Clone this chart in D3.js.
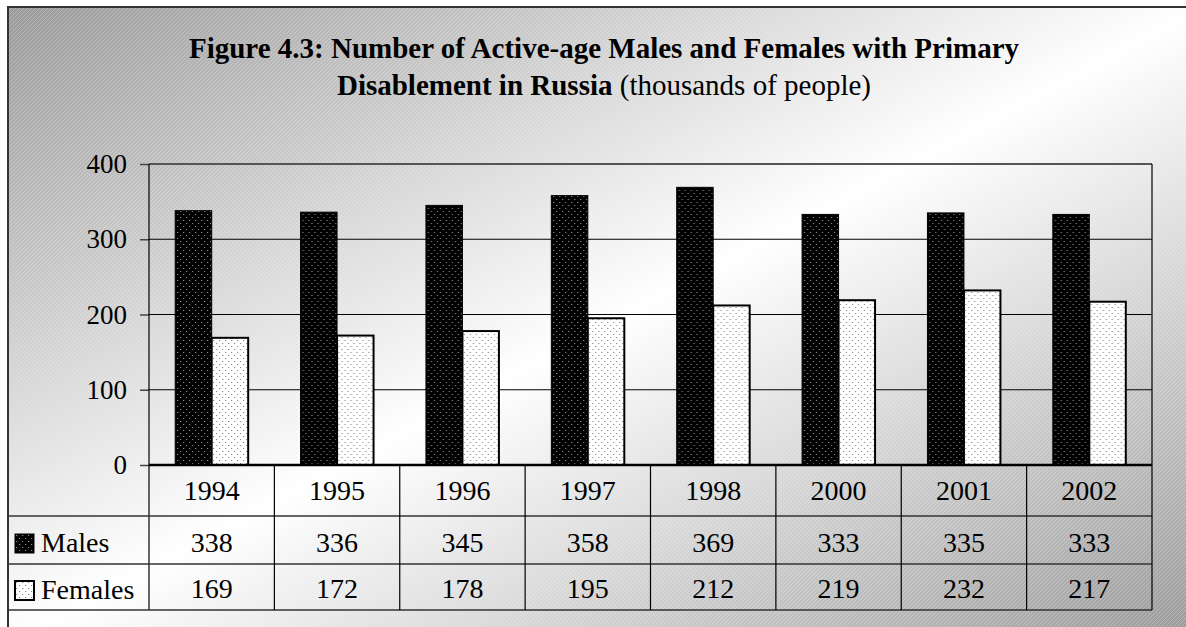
<!DOCTYPE html>
<html lang="en">
<head>
  <meta charset="UTF-8" />
  <title>Figure 4.3</title>
  <style>
    body { margin: 0; background: #fff; }
    svg { display: block; font-family: "Liberation Serif", "Times New Roman", serif; }
  </style>
</head>
<body>
  <svg width="1186" height="627"></svg>

  <script src="https://d3js.org/d3.v7.min.js"></script>
  <script>
    // chart values
    const years = ['1994', '1995', '1996', '1997', '1998', '2000', '2001', '2002'];
    const males = [338, 336, 345, 358, 369, 333, 335, 333];
    const females = [169, 172, 178, 195, 212, 219, 232, 217];
    const seriesNames = ['Males', 'Females'];
    const yTicks = [0, 100, 200, 300, 400];

    const W = 1186, H = 627;
    const plotL = 149, plotR = 1152, plotT = 164, plotB = 465;
    const rowY = [465, 516, 564, 610];

    const svg = d3.select('svg');
    const defs = svg.append('defs');

    // diagonal background gradient
    const grad = defs.append('linearGradient')
      .attr('id', 'bg').attr('x1', 0).attr('y1', 0).attr('x2', 1).attr('y2', 1);
    grad.append('stop').attr('offset', 0).attr('stop-color', '#9a9a9a');
    grad.append('stop').attr('offset', 0.5).attr('stop-color', '#ffffff');
    grad.append('stop').attr('offset', 1).attr('stop-color', '#989898');

    // faint stripes
    const stripes = defs.append('pattern')
      .attr('id', 'stripes').attr('patternUnits', 'userSpaceOnUse')
      .attr('width', 4).attr('height', 4);
    stripes.append('path').attr('d', 'M-1,1 L1,-1 M0,4 L4,0 M3,5 L5,3')
      .attr('stroke', '#fff').attr('stroke-opacity', 0.3).attr('stroke-width', 0.8);

    // dotted fills for bars
    function dots(id, bg, dot) {
      const p = defs.append('pattern')
        .attr('id', id).attr('patternUnits', 'userSpaceOnUse')
        .attr('width', 6).attr('height', 6);
      p.append('rect').attr('width', 6).attr('height', 6).attr('fill', bg);
      p.append('rect').attr('x', 1).attr('y', 1).attr('width', 1.2).attr('height', 1).attr('fill', dot);
      p.append('rect').attr('x', 4).attr('y', 4).attr('width', 1.2).attr('height', 1).attr('fill', dot);
    }
    dots('dotM', '#000', '#8a8a8a');
    dots('dotF', '#fff', '#8a8a8a');
    const fills = { Males: 'url(#dotM)', Females: 'url(#dotF)' };

    svg.append('rect').attr('x', 8).attr('y', 7).attr('width', W + 10).attr('height', H + 10)
      .attr('fill', 'url(#bg)');
    svg.append('rect').attr('x', 8).attr('y', 7).attr('width', W + 10).attr('height', H + 10)
      .attr('fill', 'url(#stripes)');
    svg.append('rect').attr('x', 8).attr('y', 7).attr('width', W + 10).attr('height', H + 10)
      .attr('fill', 'none').attr('stroke', '#333').attr('stroke-width', 2);

    // title
    const title = svg.append('text').attr('text-anchor', 'middle').attr('font-size', 29);
    title.append('tspan').attr('x', 604).attr('y', 58).attr('font-weight', 'bold')
      .text('Figure 4.3: Number of Active-age Males and Females with Primary');
    const t2 = title.append('tspan').attr('x', 604).attr('y', 95);
    t2.append('tspan').attr('font-weight', 'bold').text('Disablement in Russia');
    t2.append('tspan').text(' (thousands of people)');

    const x = d3.scaleBand().domain(years).range([plotL, plotR]).paddingInner(0).paddingOuter(0);
    const x1 = d3.scaleBand().domain(seriesNames).range([0, x.bandwidth()]).paddingInner(0).paddingOuter(0.718);
    const y = d3.scaleLinear().domain([0, 400]).range([plotB, plotT]);

    // gridlines
    svg.append('g').selectAll('line').data(yTicks.filter(d => d > 0)).join('line')
      .attr('x1', plotL).attr('x2', plotR)
      .attr('y1', d => y(d)).attr('y2', d => y(d))
      .attr('stroke', d => d === 400 ? '#555' : '#000')
      .attr('stroke-width', d => d === 400 ? 2 : 1.2);

    // plot frame
    svg.append('line').attr('x1', plotR).attr('x2', plotR).attr('y1', plotT).attr('y2', plotB)
      .attr('stroke', '#000').attr('stroke-width', 1.2);

    // bars
    const data = years.map((yr, i) => ({ year: yr, Males: males[i], Females: females[i] }));
    const groups = svg.append('g').selectAll('g').data(data).join('g')
      .attr('transform', d => `translate(${x(d.year)},0)`);
    groups.selectAll('rect').data(d => seriesNames.map(k => ({ key: k, value: d[k] }))).join('rect')
      .attr('x', d => x1(d.key))
      .attr('width', x1.bandwidth())
      .attr('y', d => y(d.value))
      .attr('height', d => y(0) - y(d.value))
      .attr('fill', d => fills[d.key])
      .attr('stroke', '#000')
      .attr('stroke-width', d => d.key === 'Females' ? 2 : 1);

    // y axis
    const yAxis = svg.append('g').attr('transform', `translate(${plotL},0)`)
      .call(d3.axisLeft(y).tickValues(yTicks).tickSize(9).tickPadding(13));
    yAxis.select('.domain').remove();
    yAxis.selectAll('.tick line').attr('stroke', '#444').attr('stroke-width', 1.5);
    yAxis.selectAll('.tick text').attr('font-size', 27).attr('font-family', 'Liberation Serif').attr('fill', '#000');
    svg.append('line').attr('x1', plotL).attr('x2', plotL).attr('y1', plotT).attr('y2', rowY[3])
      .attr('stroke', '#000').attr('stroke-width', 1.2);

    // data table
    const tbl = svg.append('g');
    tbl.selectAll('line.h').data(rowY).join('line')
      .attr('x1', (d, i) => i < 1 ? plotL : 8).attr('x2', plotR)
      .attr('y1', d => d).attr('y2', d => d)
      .attr('stroke', (d, i) => i === 0 ? '#000' : '#333')
      .attr('stroke-width', (d, i) => i === 0 ? 2.5 : 1.3);
    tbl.selectAll('line.v').data(years.map(d => x(d) + x.bandwidth()))
      .join('line')
      .attr('x1', d => d).attr('x2', d => d)
      .attr('y1', rowY[0]).attr('y2', rowY[3])
      .attr('stroke', '#000').attr('stroke-width', 1.2);

    const cx = d => x(d) + x.bandwidth() / 2;
    tbl.selectAll('text.yr').data(years).join('text')
      .attr('x', cx).attr('y', 500).attr('text-anchor', 'middle').attr('font-size', 28)
      .text(d => d);
    tbl.selectAll('text.m').data(data).join('text')
      .attr('x', d => cx(d.year)).attr('y', 552).attr('text-anchor', 'middle').attr('font-size', 28)
      .text(d => d.Males);
    tbl.selectAll('text.f').data(data).join('text')
      .attr('x', d => cx(d.year)).attr('y', 598).attr('text-anchor', 'middle').attr('font-size', 28)
      .text(d => d.Females);

    // legend keys in the table
    const legY = { Males: 534, Females: 581 };
    const leg = tbl.selectAll('g.leg').data(seriesNames).join('g')
      .attr('transform', d => `translate(15,${legY[d]})`);
    leg.append('rect').attr('width', 19).attr('height', 19)
      .attr('fill', d => fills[d]).attr('stroke', '#000').attr('stroke-width', d => d === 'Females' ? 2 : 1);
    leg.append('text').attr('x', 26).attr('y', 18).attr('font-size', 28).text(d => d);
  </script>
</body>
</html>
